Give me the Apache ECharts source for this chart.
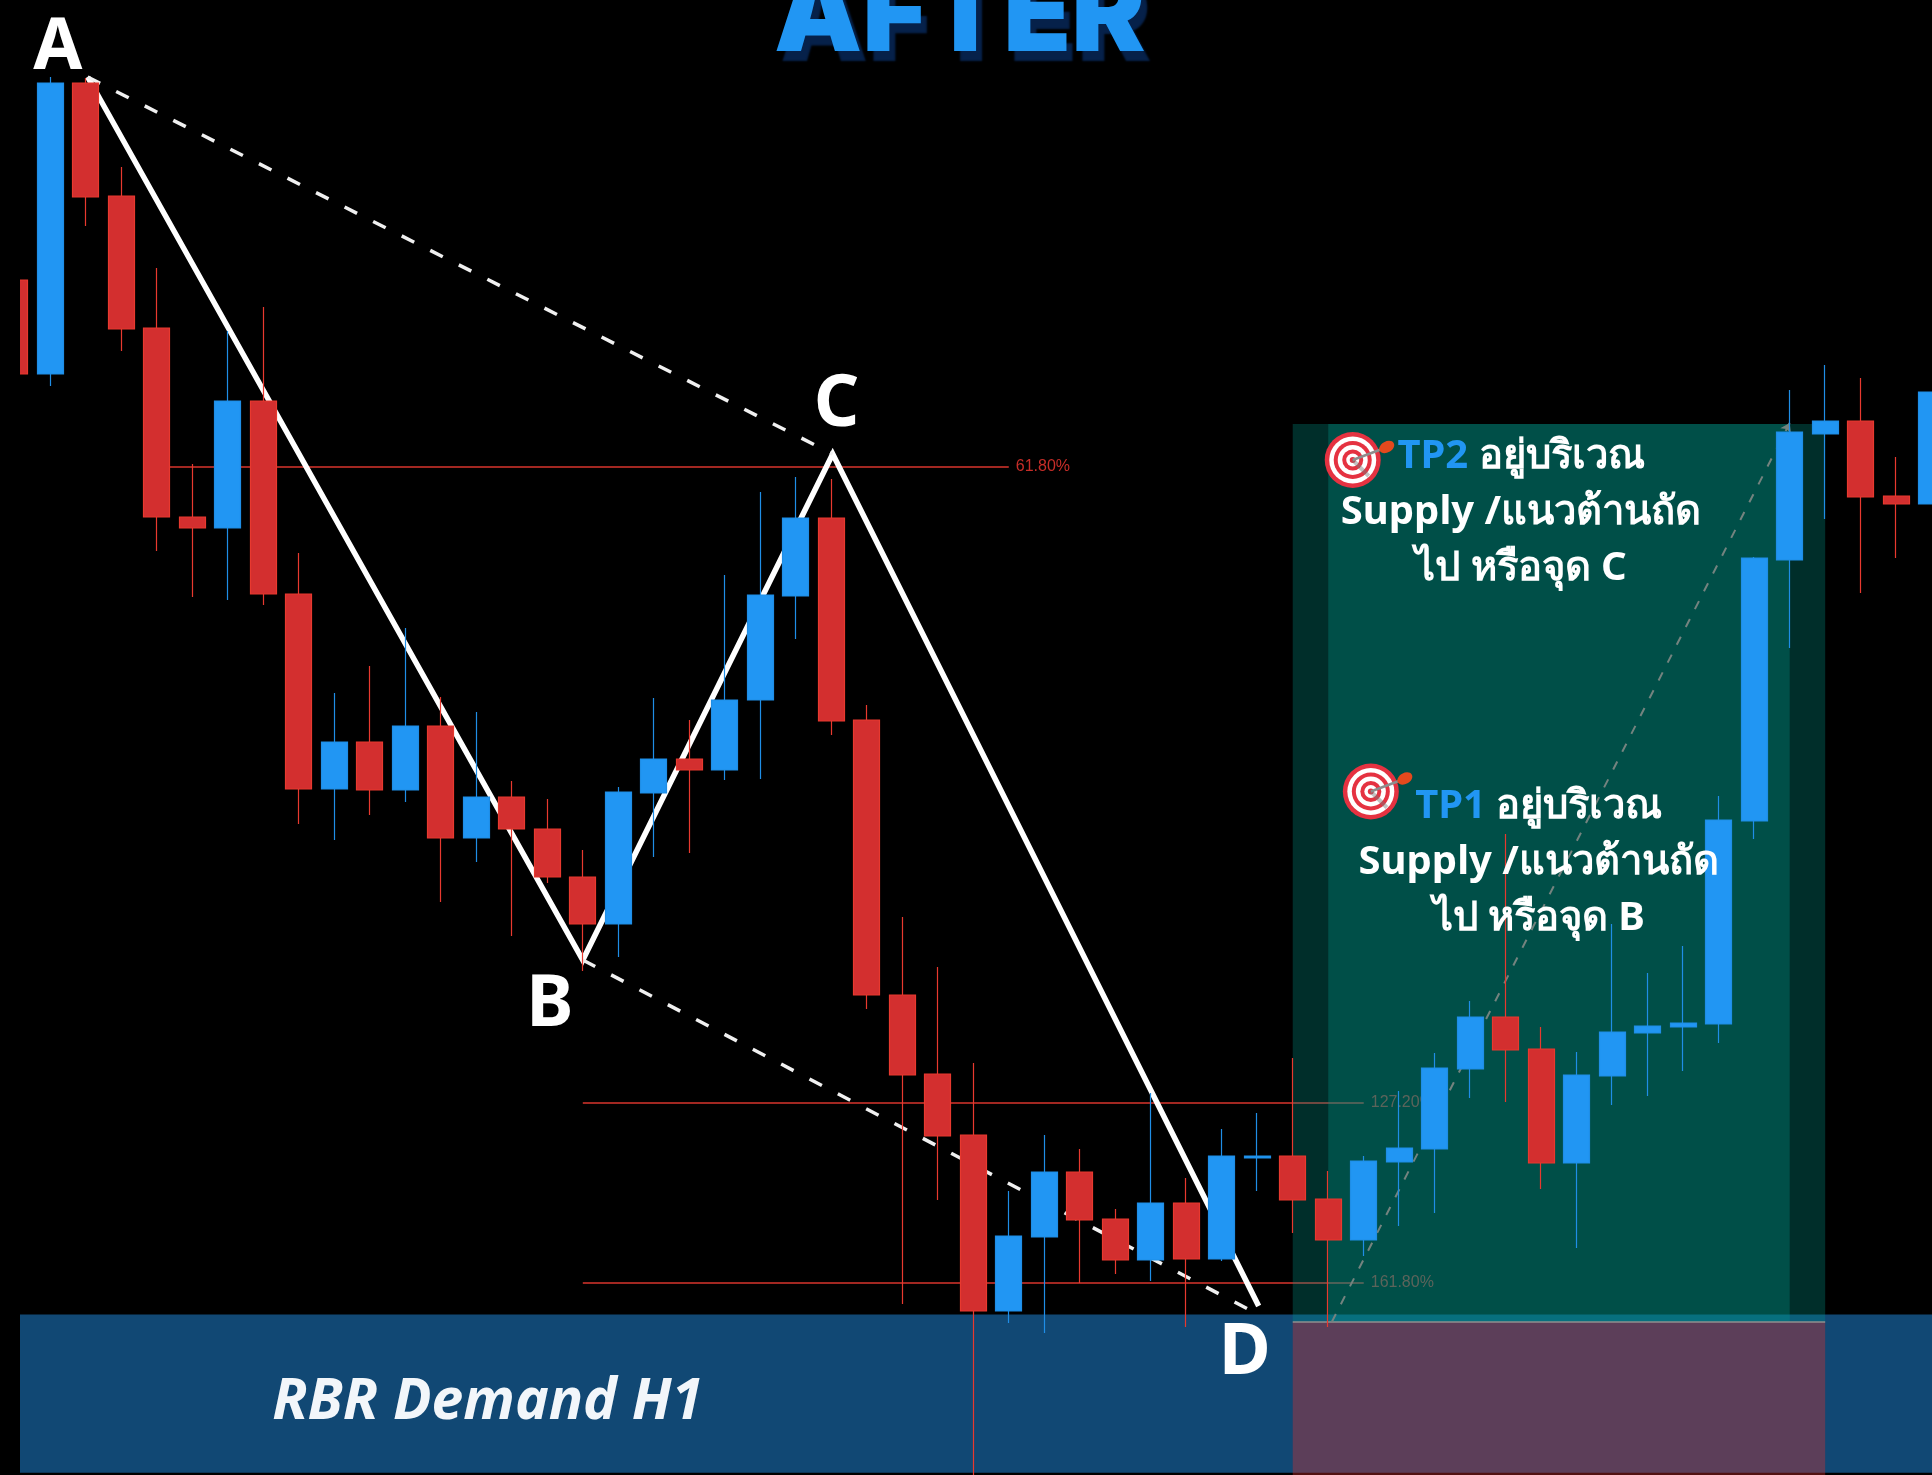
<!DOCTYPE html>
<html lang="th">
<head>
    <meta charset="utf-8">
    <title>AFTER</title>
    <script src="https://cdn.jsdelivr.net/npm/echarts@6/dist/echarts.min.js"></script>
    <style>
        html, body { margin: 0; padding: 0; background: #000; }
        /* chart starts 20px in, the first candle is cut off by the canvas edge */
        #main { width: 1912px; height: 1475px; margin-left: 20px; }
    </style>
</head>
<body>
<div id="main"></div>
<script>
    // candles, left to right (x = position in the array)
    var opens = [1195,1101,1392,1279,1147,958,947,1074,881,686,733,685,749,637,678,646,598,551,682,716,705,775,879,957,755,480,401,340,164,238,303,256,215,272,216,317,319,276,235,313,326,406,458,426,312,399,442,448,451,654,915,1041,1054,979,971];
    var closes = [1101,1392,1278,1146,958,947,1074,881,686,733,685,749,637,678,646,598,551,683,716,705,775,880,957,754,480,400,339,164,239,303,255,215,272,216,319,319,275,235,314,327,407,458,425,312,400,443,449,452,655,917,1043,1054,978,971,1083];
    var lows = [1101,1089,1249,1124,924,878,875,870,651,635,660,673,573,613,539,592,504,518,618,622,695,696,836,740,466,171,275,0,152,142,192,201,194,148,214,284,242,148,219,249,262,377,373,286,227,370,379,404,432,636,827,956,882,917,971];
    var highs = [1195,1398,1397,1308,1207,1011,1144,1168,922,782,809,847,778,763,694,676,625,688,777,755,900,983,998,996,770,558,508,412,284,340,326,266,382,297,346,362,417,304,319,384,422,474,641,448,423,551,502,529,679,918,1085,1110,1097,1018,1083];

    // visible window of the axes
    var xMin = 0.145, xMax = 54.009;
    var yMin = 0, yMax = 1475;

    // ABCD swing
    var swingX = [2.05, 16, 23.04, 35.04];
    var swingY = [1398, 515, 1021, 169];
    var dashAC = [[2.05, 1398], [23.04, 1021]];
    var dashBD = [[16, 515], [34.9, 163]];

    // fibonacci levels
    var fibNames = ['61.80%', '127.20%', '161.80%'];
    var fibStart = [4, 16, 16];
    var fibEnd = [28, 38, 38];
    var fibPrice = [1008, 372.7, 192.7];

    // demand band and long position box
    var bandPrice = [160.5, 2.3];
    var boxOuterX = [36, 51];
    var boxInnerX = [37, 50];
    var boxTop = 1051, boxEntry = 153;
    var boxPath = [[37.1, 153], [50, 1052]];

    var letterNames = ['A', 'B', 'C', 'D'];
    var letterX = [1.21, 15.07, 23.15, 34.65];
    var letterY = [1426, 469, 1069, 121];

    var tpText = [
        '{tp|TP2} อยู่บริเวณ\nSupply /แนวต้านถัด\nไป หรือจุด C',
        '{tp|TP1} อยู่บริเวณ\nSupply /แนวต้านถัด\nไป หรือจุด B'
    ];
    var tpX = [42.43, 42.93];
    var tpY = [962, 612.5];
    var iconX = [37.69, 38.2];
    var iconY = [1015, 683.5];

    var UP = '#2196f3', DOWN = '#d32f2f';
    var FONT = '"Noto Sans", "Open Sans", sans-serif';

    function textPoint(x, y, text, label) {
        return { value: [x, y], label: Object.assign({ formatter: text }, label) };
    }

    var candles = opens.map(function (o, i) {
        return [i, o, closes[i], lows[i], highs[i]];
    });

    var fibLines = fibNames.map(function (name, i) {
        return [
            { coord: [fibStart[i], fibPrice[i]] },
            { coord: [fibEnd[i], fibPrice[i]], label: { formatter: name } }
        ];
    });

    var notes = letterNames.map(function (s, i) {
        return textPoint(letterX[i], letterY[i], s, { fontSize: 71, fontWeight: 700, color: '#fff' });
    });
    notes.push(textPoint(26.62, 1457, 'AFTER', {
        fontFamily: 'Inter', fontSize: 111, fontWeight: 900, color: UP,
        textShadowColor: '#06214a', textShadowBlur: 2, textShadowOffsetX: 6, textShadowOffsetY: 10
    }));
    notes.push(textPoint(13.32, 72, 'RBR Demand H1', {
        fontSize: 57, fontWeight: 700, fontStyle: 'italic', color: '#f2f6fa'
    }));
    tpText.forEach(function (t, i) {
        notes.push(textPoint(tpX[i], tpY[i], t, {
            fontSize: 40, fontWeight: 700, color: '#fff', lineHeight: 56, align: 'center',
            rich: { tp: { fontFamily: FONT, fontSize: 40, fontWeight: 700, color: UP, lineHeight: 56 } }
        }));
    });

    function renderIcon(params, api) {
        var p = api.coord([api.value(0), api.value(1)]);
        var rings = [[28, '#e53241'], [23.5, '#fff'], [19, '#e53241'], [15, '#fff'], [10.5, '#e53241'], [6.5, '#fff'], [3, '#e53241']];
        var children = rings.map(function (r) {
            return { type: 'circle', shape: { cx: p[0], cy: p[1], r: r[0] }, style: { fill: r[1] } };
        });
        children.push({
            type: 'line',
            shape: { x1: p[0], y1: p[1], x2: p[0] + 16, y2: p[1] + 16 },
            style: { stroke: 'rgba(120,120,120,0.45)', lineWidth: 4 }
        });
        children.push({
            type: 'line',
            shape: { x1: p[0], y1: p[1], x2: p[0] + 32, y2: p[1] - 12 },
            style: { stroke: '#8d8d8d', lineWidth: 2.5 }
        });
        children.push({
            type: 'ellipse',
            shape: { cx: p[0] + 34, cy: p[1] - 13, rx: 8, ry: 5.5 },
            rotation: 0.5,
            originX: p[0] + 34,
            originY: p[1] - 13,
            style: { fill: '#e4491d' }
        });
        return { type: 'group', children: children };
    }

    var chart = echarts.init(document.getElementById('main'));
    chart.setOption({
        animation: false,
        backgroundColor: '#000',
        textStyle: { fontFamily: FONT },
        tooltip: { show: false },
        grid: { left: 0, right: 0, top: 0, bottom: 0 },
        xAxis: { type: 'value', min: xMin, max: xMax, show: false },
        yAxis: { type: 'value', min: yMin, max: yMax, show: false },
        series: [
            {
                type: 'line', name: 'band', data: [], silent: true,
                markArea: {
                    z: 1, silent: true,
                    itemStyle: { color: '#114874' },
                    data: [[{ coord: [xMin, bandPrice[0]] }, { coord: [xMax, bandPrice[1]] }]]
                }
            },
            {
                type: 'line', name: 'fib', data: [], silent: true,
                markLine: {
                    z: 2, silent: true, symbol: 'none', animation: false,
                    lineStyle: { color: '#d8352d', width: 1.5, type: 'solid' },
                    label: {
                        show: true, position: 'end', distance: 7, color: '#c62d28',
                        fontFamily: 'Liberation Sans', fontSize: 16
                    },
                    data: fibLines
                }
            },
            {
                type: 'line', name: 'swing', z: 3, silent: true, showSymbol: false,
                data: swingX.map(function (x, i) { return [x, swingY[i]]; }),
                lineStyle: { color: '#fff', width: 5.5, join: 'miter', miterLimit: 20 }
            },
            {
                type: 'line', name: 'ac', z: 3, silent: true, showSymbol: false, data: dashAC,
                lineStyle: { color: '#f0f0f0', width: 3.5, type: [14, 18] }
            },
            {
                type: 'line', name: 'bd', z: 3, silent: true, showSymbol: false, data: dashBD,
                lineStyle: { color: '#f0f0f0', width: 3.5, type: [14, 18] }
            },
            {
                type: 'line', name: 'position', data: [], silent: true,
                markArea: {
                    z: 4, silent: true,
                    data: [
                        [{ coord: [boxOuterX[0], boxTop], itemStyle: { color: 'rgba(0,150,136,0.31)' } }, { coord: [boxOuterX[1], boxEntry] }],
                        [{ coord: [boxInnerX[0], boxTop], itemStyle: { color: 'rgba(0,150,136,0.32)' } }, { coord: [boxInnerX[1], boxEntry] }],
                        [{ coord: [boxOuterX[0], boxEntry], itemStyle: { color: 'rgba(211,47,47,0.39)' } }, { coord: [boxOuterX[1], yMin] }]
                    ]
                },
                markLine: {
                    z: 5, silent: true, symbol: 'none', animation: false,
                    label: { show: false },
                    lineStyle: { color: '#8f8f8f', width: 1.5, type: 'solid' },
                    data: [[{ coord: [boxOuterX[0], boxEntry] }, { coord: [boxOuterX[1], boxEntry] }]]
                }
            },
            {
                type: 'line', name: 'path', data: [], silent: true,
                markLine: {
                    z: 5, silent: true, symbol: ['none', 'arrow'], symbolSize: 9, animation: false,
                    label: { show: false },
                    lineStyle: { color: '#74837f', width: 2, type: [9, 11] },
                    data: [[{ coord: boxPath[0] }, { coord: boxPath[1] }]]
                }
            },
            {
                type: 'candlestick', name: 'price', z: 6, silent: true,
                barWidth: 26.5,
                encode: { x: 0, y: [1, 2, 3, 4] },
                itemStyle: {
                    color: UP, color0: DOWN,
                    borderColor: '#1f8ee6', borderColor0: '#e8392f',
                    borderWidth: 1.2
                },
                data: candles
            },
            {
                type: 'scatter', name: 'notes', z: 8, silent: true,
                symbolSize: 0,
                itemStyle: { opacity: 1 },
                label: { show: true, position: 'inside', fontFamily: FONT },
                data: notes
            },
            {
                type: 'custom', name: 'icons', z: 8, silent: true, clip: false,
                encode: { x: 0, y: 1 },
                renderItem: renderIcon,
                data: iconX.map(function (x, i) { return [x, iconY[i]]; })
            }
        ]
    });
</script>
</body>
</html>
